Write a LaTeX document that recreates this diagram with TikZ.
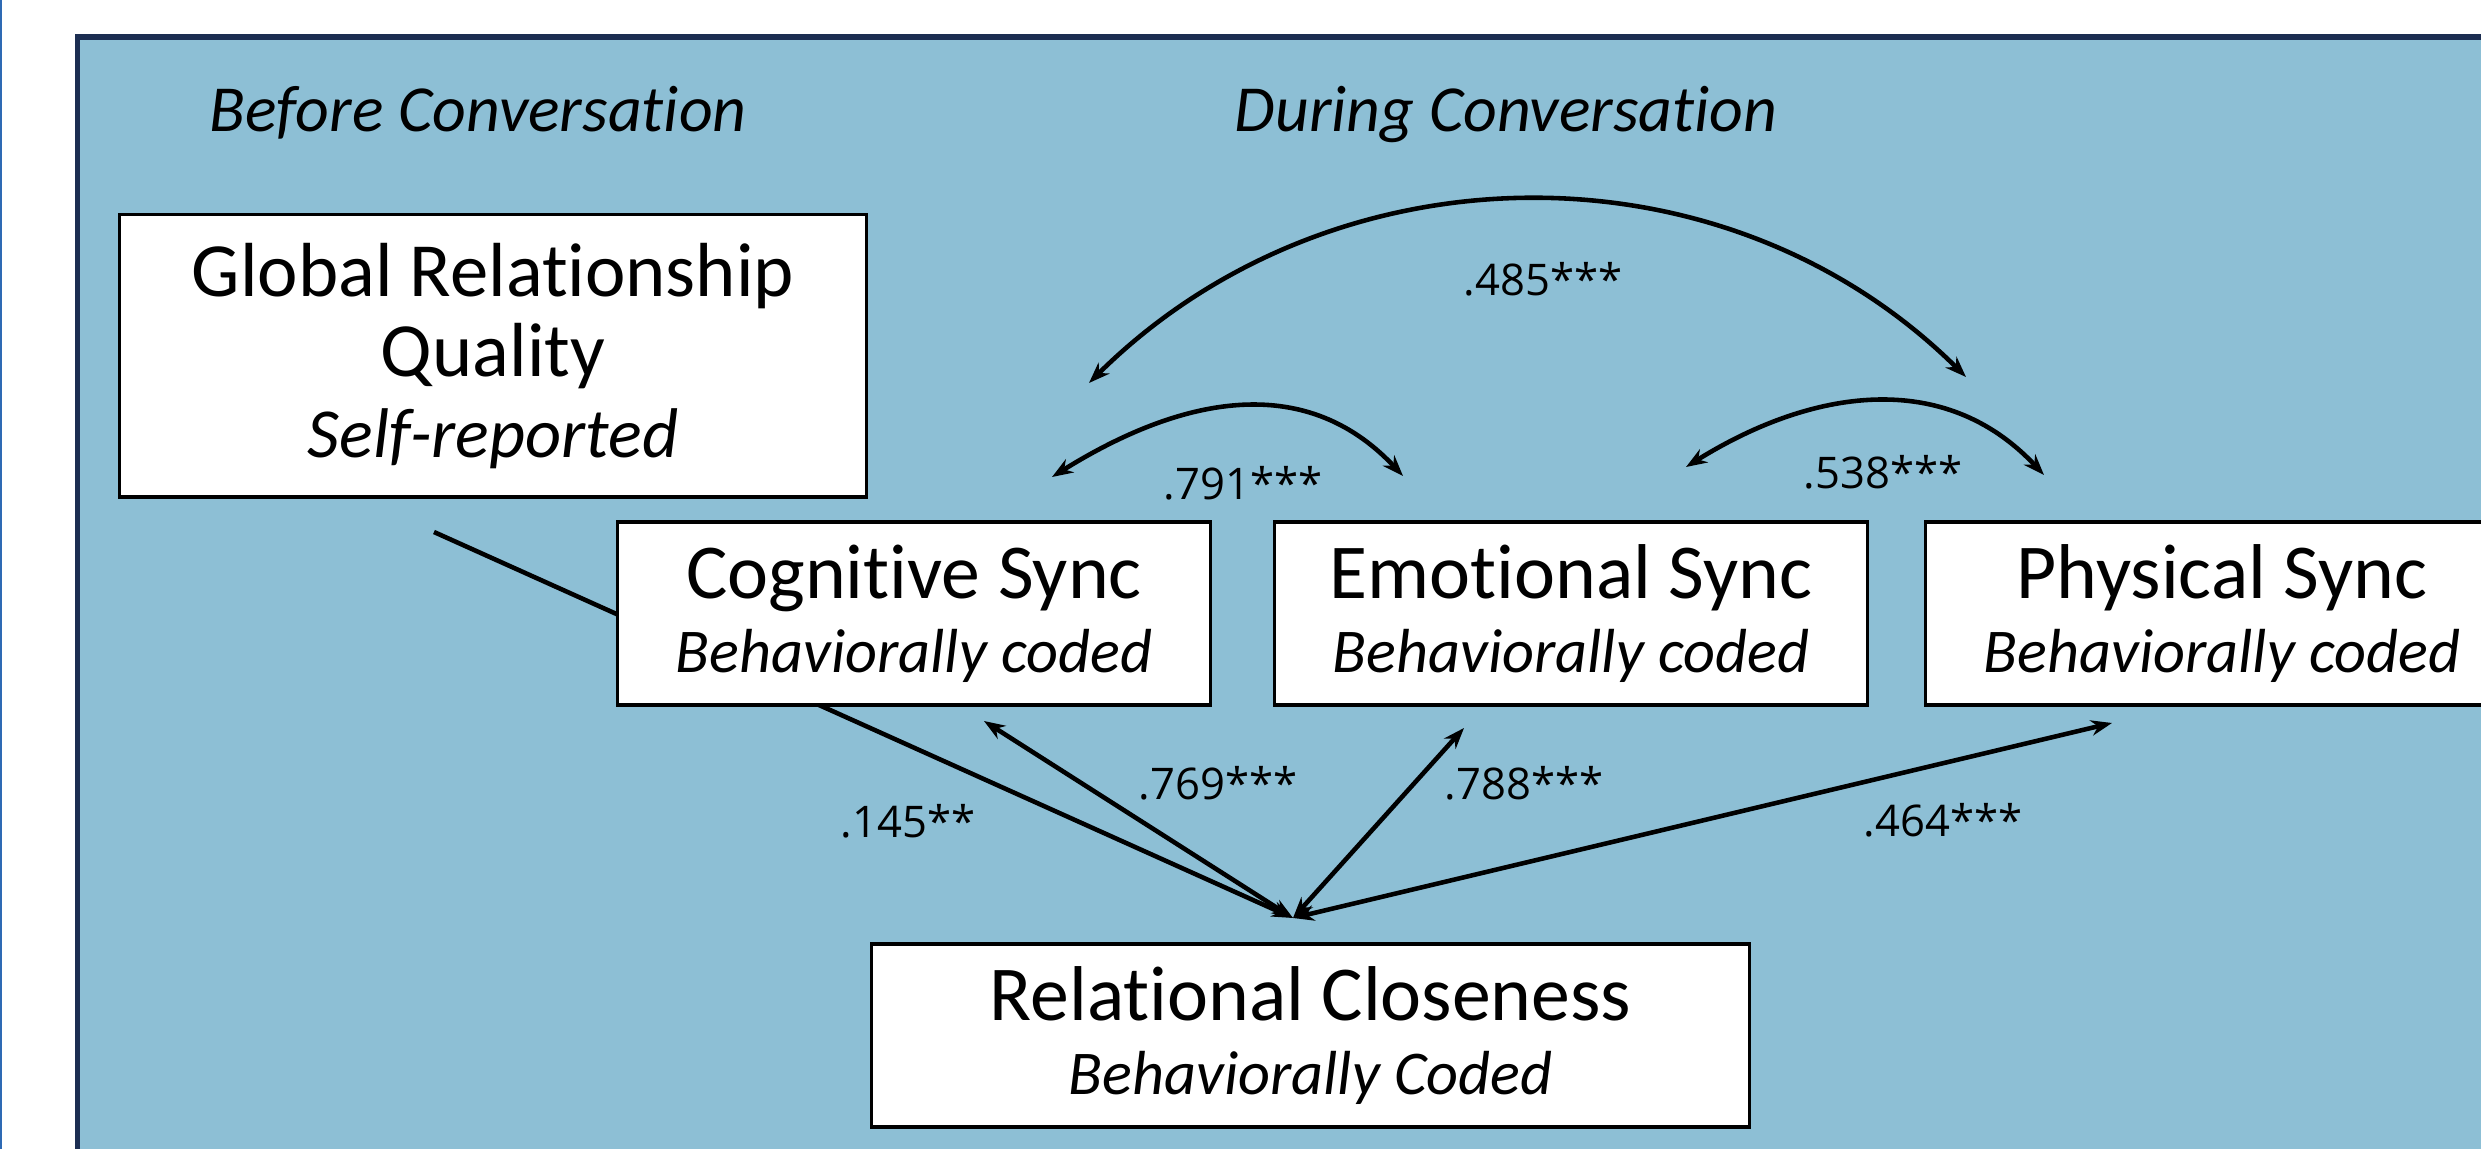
\documentclass[tikz,border=0pt]{standalone}
\usepackage{fontspec}
\setmainfont[Ligatures=NoCommon]{Carlito}
\newfontfamily\numfont{Open Sans}
\usetikzlibrary{arrows.meta}

\definecolor{panelfill}{RGB}{141,191,213}
\definecolor{panelrim}{RGB}{28,46,82}
\definecolor{edgeblue}{RGB}{46,106,180}

\newcommand{\mainsize}{\fontsize{22.1}{21}\selectfont}
\newcommand{\subsize}{\fontsize{17.7}{21}\selectfont\itshape}

\begin{document}
\begin{tikzpicture}[x=0.01cm,y=-0.01cm,
  box/.style={draw=black,line width=0.9pt,fill=white,inner sep=0pt,align=center,font=\mainsize},
  syncbox/.style={box,minimum width=5.92cm,minimum height=1.83cm},
  head/.style={anchor=base,inner sep=0pt,font=\fontsize{18.7}{22}\selectfont\itshape},
  coef/.style={inner sep=0pt,font=\numfont\fontsize{12.4}{15}\selectfont},
  path/.style={line width=1.3pt,-{Stealth[length=6pt,width=4.4pt]}},
  twoway/.style={line width=1.3pt,{Stealth[length=6pt,width=4.4pt]}-{Stealth[length=6pt,width=4.4pt]}}]

\useasboundingbox (0,0) rectangle (2481,1149);
\clip (0,0) rectangle (2481,1149);

% background panel and page edge rule
\draw[draw=panelrim,line width=1.6pt,fill=panelfill] (77.5,37) rectangle (2700,1300);
\draw[edgeblue,line width=0.6pt] (1,0) -- (1,1149);

% section headings
\node[head] (before) at (478,132) {Before Conversation};
\node[head] (during) at (1506,132) {During Conversation};

% connector end points
\coordinate (hub)    at (1293,918);
\coordinate (grqout) at (434,532);
\coordinate (cogin)  at (984,721);
\coordinate (emoin)  at (1464,728);
\coordinate (phyin)  at (2112,723);
\coordinate (a1) at (1089,383);
\coordinate (a2) at (1966,377);
\coordinate (b1) at (1052,477);
\coordinate (b2) at (1403,476);
\coordinate (c1) at (1686,467);
\coordinate (c2) at (2044,475);

% paths into relational closeness
\draw[path]   (grqout) -- (hub);
\draw[twoway] (cogin) -- (hub);
\draw[twoway] (emoin) -- (hub);
\draw[twoway] (phyin) -- (hub);

% covariances between the sync measures
\draw[twoway] (a1) .. controls (1331,143) and (1724,137) .. (a2);
\draw[twoway] (b1) .. controls (1177,399) and (1303,369) .. (b2);
\draw[twoway] (c1) .. controls (1811,389) and (1944,368) .. (c2);

% variables
\node[box,minimum width=7.46cm,minimum height=2.82cm,font=\fontsize{21.8}{23}\selectfont] (grq) at (493,356)
  {Global Relationship\\Quality\\{\fontsize{20}{23}\selectfont\itshape Self-reported}};
\node[syncbox] (cog) at (914,613.5) {Cognitive Sync\\{\subsize Behaviorally coded}};
\node[syncbox] (emo) at (1571,613.5) {Emotional Sync\\{\subsize Behaviorally coded}};
\node[syncbox] (phy) at (2222,613.5) {Physical Sync\\{\subsize Behaviorally coded}};
\node[box,minimum width=8.77cm,minimum height=1.83cm] (rc) at (1310.5,1035.5)
  {Relational Closeness\\{\subsize Behaviorally Coded}};

% coefficients
\node[coef] (k485) at (1543,279) {.485***};
\node[coef] (k791) at (1243,483) {.791***};
\node[coef] (k538) at (1883,472) {.538***};
\node[coef] (k145) at (908,821) {.145**};
\node[coef] (k769) at (1218,783) {.769***};
\node[coef] (k788) at (1524,783) {.788***};
\node[coef] (k464) at (1943,820) {.464***};
\end{tikzpicture}
\end{document}
